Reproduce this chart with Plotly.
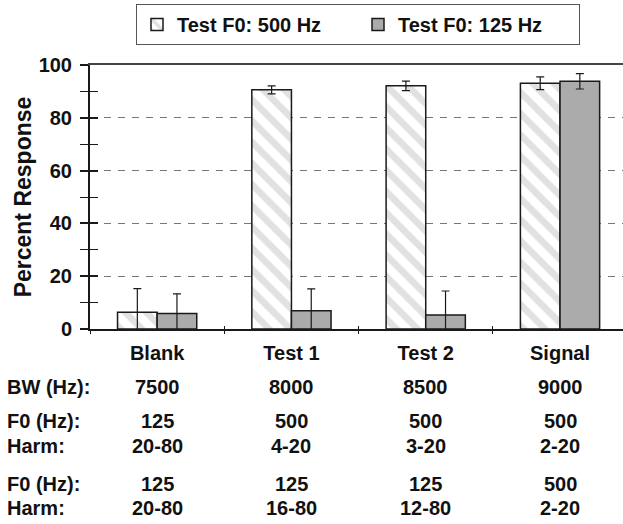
import plotly.graph_objects as go

# ---- data ----
conditions = ["Blank", "Test 1", "Test 2", "Signal"]
resp_500 = [6.3, 90.6, 92.1, 93.1]
err_500 = [9.0, 1.5, 1.8, 2.4]
resp_125 = [5.9, 6.9, 5.3, 93.8]
err_125 = [7.4, 8.3, 9.1, 2.9]
series_names = ["Test F0: 500 Hz", "Test F0: 125 Hz"]

row_labels = ["BW (Hz):", "F0 (Hz):", "Harm:", "F0 (Hz):", "Harm:"]
bw_vals = ["7500", "8000", "8500", "9000"]
f0_a = ["125", "500", "500", "500"]
harm_a = ["20-80", "4-20", "3-20", "2-20"]
f0_b = ["125", "125", "125", "500"]
harm_b = ["20-80", "16-80", "12-80", "2-20"]
table_rows = [bw_vals, f0_a, harm_a, f0_b, harm_b]

y_ticks = [0, 20, 40, 60, 80, 100]
boundary_ticks = [0.5, 1.5, 2.5]

# ---- style ----
FONT = "Liberation Sans"
TXT = "#111111"
AX = "#1a1a1a"
W, H = 623, 524
ML, MR, MT, MB = 90, 0, 65, 195
XR = [-0.5, 3.469]

fig = go.Figure()
fig.add_trace(go.Bar(
    x=conditions, y=resp_500, name=series_names[0],
    marker=dict(color="white", line=dict(color=AX, width=1.5),
                pattern=dict(shape="\\", fgcolor="#c4c4c4", bgcolor="white",
                             size=15, solidity=0.45)),
    error_y=dict(type="data", array=err_500, color=AX, thickness=1.2, width=4),
))
fig.add_trace(go.Bar(
    x=conditions, y=resp_125, name=series_names[1],
    marker=dict(color="#ababab", line=dict(color=AX, width=1.5)),
    error_y=dict(type="data", array=err_125, color=AX, thickness=1.2, width=4),
))
# empty helper traces so overlay axes render
fig.add_trace(go.Scatter(x=[], y=[], xaxis="x2", yaxis="y", showlegend=False))
fig.add_trace(go.Scatter(x=[], y=[], xaxis="x3", yaxis="y", showlegend=False))
fig.add_trace(go.Scatter(x=[], y=[], xaxis="x", yaxis="y2", showlegend=False))

plot_h = H - MT - MB


def py(pix_y):
    # convert pixel y (from top) to paper coordinate
    return (H - MB - pix_y) / plot_h


row_y = [387, 421, 446, 484, 508]
annots = []
for label, vals, ypix in zip(row_labels, table_rows, row_y):
    annots.append(dict(text=label, xref="paper", x=-(ML - 5) / (W - ML - MR), xanchor="left",
                       yref="paper", y=py(ypix), yanchor="middle", showarrow=False,
                       font=dict(family=FONT, size=20, color=TXT, weight="bold")))
    for c, v in zip(conditions, vals):
        annots.append(dict(text=v, xref="x", x=c, xanchor="center",
                           yref="paper", y=py(ypix), yanchor="middle", showarrow=False,
                           font=dict(family=FONT, size=20, color=TXT, weight="bold")))

fig.update_layout(
    width=W, height=H,
    margin=dict(l=ML, r=MR, t=MT, b=MB, pad=0),
    paper_bgcolor="white", plot_bgcolor="white",
    barmode="group", bargap=0.41, bargroupgap=0,
    font=dict(family=FONT, size=20, color=TXT, weight="bold"),
    showlegend=True,
    legend=dict(orientation="h", xref="container", yref="container",
                x=358 / W, xanchor="center", y=1 - 4 / H, yanchor="top",
                entrywidth=176, entrywidthmode="pixels",
                bordercolor="#555555", borderwidth=1, bgcolor="white",
                font=dict(family=FONT, size=20, color=TXT, weight="bold")),
    xaxis=dict(type="category", range=XR, showline=True, linecolor=AX, linewidth=2,
               ticks="outside", tickson="boundaries", ticklen=3, tickwidth=1.2, tickcolor=AX,
               showgrid=False, zeroline=False, ticklabelstandoff=5,
               tickfont=dict(family=FONT, size=20, color=TXT, weight="bold")),
    xaxis2=dict(overlaying="x", side="top", anchor="y", type="linear", range=XR,
                showline=True, linecolor="#444444", linewidth=1.5,
                showticklabels=False, ticks="", showgrid=False, zeroline=False),
    xaxis3=dict(overlaying="x", side="bottom", anchor="y", type="linear", range=XR,
                showline=False, tickvals=boundary_ticks, ticks="inside", ticklen=3,
                tickwidth=1.2, tickcolor=AX, showticklabels=False, showgrid=False,
                zeroline=False),
    yaxis=dict(range=[0, 100], tickvals=y_ticks, ticks="outside", ticklen=8, tickwidth=2,
               tickcolor=AX, showline=True, linecolor=AX, linewidth=2,
               showgrid=True, gridcolor="#777777", gridwidth=1.2, griddash="7px,7px",
               zeroline=False, ticklabelstandoff=4,
               minor=dict(dtick=10, tick0=0, ticks="outside", ticklen=8, tickwidth=1.2,
                          tickcolor=AX, showgrid=False),
               tickfont=dict(family=FONT, size=20, color=TXT, weight="bold"),
               title=dict(text="Percent Response", standoff=1,
                          font=dict(family=FONT, size=23, color=TXT, weight="bold"))),
    yaxis2=dict(overlaying="y", side="left", anchor="x", range=[0, 100], tickvals=y_ticks,
                ticks="inside", ticklen=8, tickwidth=2, tickcolor=AX,
                showticklabels=False, showgrid=False, zeroline=False, showline=False,
                minor=dict(dtick=10, tick0=0, ticks="inside", ticklen=8, tickwidth=1.2,
                           tickcolor=AX, showgrid=False)),
    annotations=annots,
)

fig.write_html("out.html")
